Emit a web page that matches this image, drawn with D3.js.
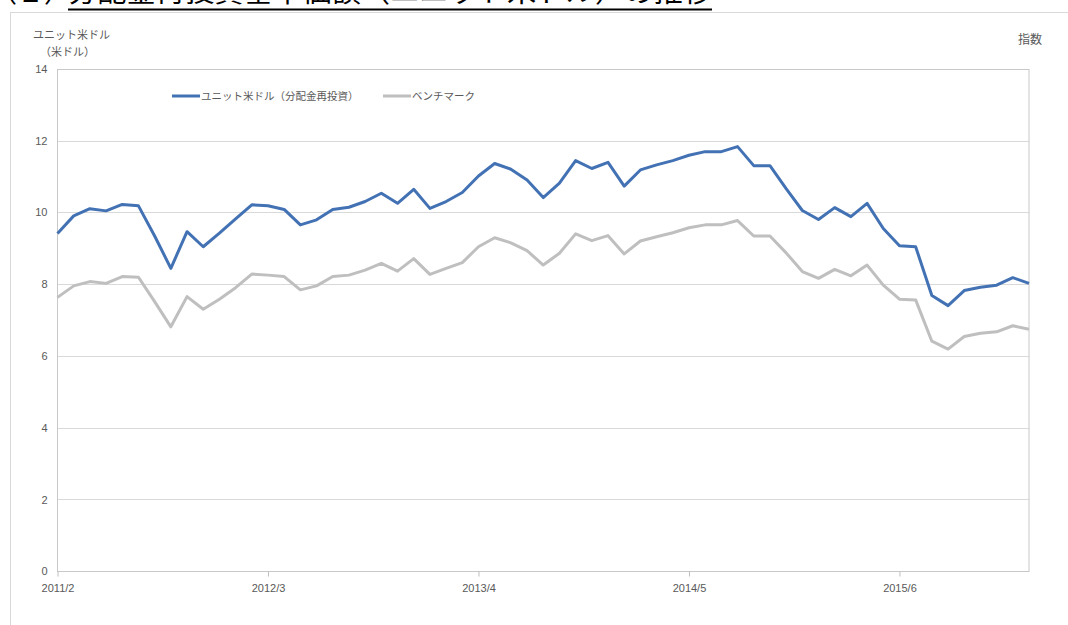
<!DOCTYPE html>
<html>
  <head>
    <meta charset="utf-8">
    <style>
      body { margin: 0; background: #fff; }
      svg { display: block; font-family: "Noto Sans CJK JP", "Noto Sans", sans-serif; }
      .grid line { stroke: #d9d9d9; stroke-width: 1; }
      .axis text { fill: #595959; font-size: 11px; }
      .axis path { display: none; }
      .axis line { stroke: #bfbfbf; }
    </style>
  </head>
  <body>
    <script src="https://cdn.jsdelivr.net/npm/d3@7"></script>
    <script type="text/javascript">
      // monthly points, 2011/2 .. 2016/2
      const months = [];
      for (let y = 2011; y <= 2016; y++) {
        for (let m = 1; m <= 12; m++) {
          if ((y === 2011 && m < 2) || (y === 2016 && m > 2)) continue;
          months.push(y + '/' + m);
        }
      }
      const tickLabels = ['2011/2', '2012/3', '2013/4', '2014/5', '2015/6'];
      const yTicks = [0, 2, 4, 6, 8, 10, 12, 14];

      const unitUsd = [
        9.41, 9.90, 10.10, 10.04, 10.22, 10.18, 9.34, 8.44, 9.46, 9.04,
        9.42, 9.82, 10.21, 10.18, 10.08, 9.65, 9.79, 10.08, 10.14, 10.30,
        10.53, 10.25, 10.64, 10.11, 10.30, 10.55, 11.01, 11.36, 11.20, 10.90,
        10.41, 10.81, 11.44, 11.22, 11.39, 10.73, 11.18, 11.32, 11.44, 11.59,
        11.69, 11.69, 11.83, 11.30, 11.30, 10.66, 10.05, 9.80, 10.13, 9.88,
        10.25, 9.55, 9.07, 9.04, 7.68, 7.40, 7.82, 7.91, 7.97, 8.18,
        8.02
      ];
      const benchmark = [
        7.63, 7.95, 8.07, 8.02, 8.21, 8.19, 7.51, 6.81, 7.65, 7.30,
        7.58, 7.90, 8.28, 8.25, 8.21, 7.84, 7.95, 8.21, 8.25, 8.39,
        8.58, 8.36, 8.71, 8.27, 8.44, 8.60, 9.04, 9.29, 9.15, 8.93,
        8.53, 8.86, 9.40, 9.21, 9.35, 8.84, 9.20, 9.32, 9.43, 9.57,
        9.65, 9.65, 9.77, 9.34, 9.34, 8.87, 8.35, 8.16, 8.41, 8.23,
        8.53, 7.97, 7.58, 7.56, 6.41, 6.19, 6.54, 6.63, 6.67, 6.84,
        6.74
      ];

      const width = 1068;
      const height = 625;
      const plot = { left: 57.5, right: 1029, top: 68.7, bottom: 571.3 };

      const svg = d3.select('body')
        .append('svg')
        .attr('width', width)
        .attr('height', height);

      // outer chart frame
      svg.append('rect')
        .attr('x', 10.5).attr('y', 12.5)
        .attr('width', 1080).attr('height', 640)
        .attr('fill', 'none').attr('stroke', '#d9d9d9');

      // title, cut off at top like the source page
      svg.append('text')
        .attr('x', -10).attr('y', 2)
        .attr('font-size', 27)
        .attr('fill', '#000')
        .text('（２）');
      svg.append('text')
        .attr('x', 68).attr('y', 2)
        .attr('font-size', 27)
        .attr('fill', '#000')
        .attr('textLength', 644)
        .attr('lengthAdjust', 'spacingAndGlyphs')
        .text('分配金再投資基準価額（ユニット米ドル）の推移');
      svg.append('line')
        .attr('x1', 68).attr('x2', 712)
        .attr('y1', 9.5).attr('y2', 9.5)
        .attr('stroke', '#000').attr('stroke-width', 2);

      const x = d3.scalePoint()
        .domain(months)
        .range([plot.left, plot.right]);

      const y = d3.scaleLinear()
        .domain([0, 14])
        .range([plot.bottom, plot.top]);

      // gridlines
      svg.append('g')
        .attr('class', 'grid')
        .selectAll('line')
        .data(yTicks)
        .join('line')
        .attr('x1', plot.left).attr('x2', plot.right)
        .attr('y1', (d) => Math.round(y(d)) + 0.5)
        .attr('y2', (d) => Math.round(y(d)) + 0.5);

      // plot border
      svg.append('rect')
        .attr('x', plot.left).attr('y', Math.round(plot.top) + 0.5)
        .attr('width', plot.right - plot.left)
        .attr('height', Math.round(plot.bottom) - Math.round(plot.top))
        .attr('fill', 'none')
        .attr('stroke', '#c8c8c8');

      svg.append('g')
        .attr('class', 'axis')
        .attr('transform', `translate(${plot.left},0)`)
        .call(d3.axisLeft(y).tickValues(yTicks).tickSize(0).tickPadding(10));

      const xAxis = svg.append('g')
        .attr('class', 'axis')
        .attr('transform', `translate(0,${Math.round(plot.bottom) + 0.5})`)
        .call(d3.axisBottom(x).tickValues(tickLabels).tickSize(5).tickPadding(6));
      xAxis.selectAll('text').attr('dy', '0.9em');

      // axis titles
      svg.append('text')
        .attr('x', 33).attr('y', 39)
        .attr('font-size', 11).attr('fill', '#595959')
        .text('ユニット米ドル');
      svg.append('text')
        .attr('x', 40).attr('y', 56)
        .attr('font-size', 11).attr('fill', '#595959')
        .text('（米ドル）');
      svg.append('text')
        .attr('x', 1018).attr('y', 44)
        .attr('font-size', 12).attr('fill', '#595959')
        .text('指数');

      const line = d3.line()
        .x((d, i) => x(months[i]))
        .y((d) => y(d));

      svg.append('path')
        .datum(benchmark)
        .attr('fill', 'none')
        .attr('stroke', '#bfbfbf')
        .attr('stroke-width', 3)
        .attr('stroke-linejoin', 'round')
        .attr('d', line);

      svg.append('path')
        .datum(unitUsd)
        .attr('fill', 'none')
        .attr('stroke', '#4372b4')
        .attr('stroke-width', 3)
        .attr('stroke-linejoin', 'round')
        .attr('d', line);

      // legend
      const legend = [
        { name: 'ユニット米ドル（分配金再投資）', color: '#4372b4', x: 172 },
        { name: 'ベンチマーク', color: '#bfbfbf', x: 383 }
      ];
      const lg = svg.append('g').selectAll('g')
        .data(legend)
        .join('g')
        .attr('transform', (d) => `translate(${d.x},96)`);
      lg.append('line')
        .attr('x1', 0).attr('x2', 28)
        .attr('stroke', (d) => d.color)
        .attr('stroke-width', 3);
      lg.append('text')
        .attr('x', 29).attr('y', 4)
        .attr('font-size', 10.5).attr('fill', '#595959')
        .text((d) => d.name);
    </script>
  </body>
</html>
